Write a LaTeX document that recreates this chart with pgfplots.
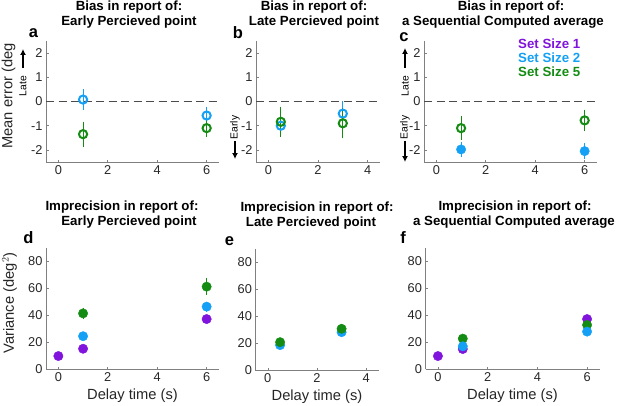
\documentclass[border=0pt]{standalone}
\usepackage{fontspec}
\setmainfont{Liberation Sans}
\usepackage{pgfplots}
\pgfplotsset{compat=1.18}
\usetikzlibrary{arrows.meta}
\definecolor{ssone}{RGB}{128,20,220}
\definecolor{sstwo}{RGB}{20,160,245}
\definecolor{ssfive}{RGB}{20,140,20}
\definecolor{txt}{RGB}{38,38,38}
\definecolor{axc}{RGB}{128,128,128}
\definecolor{dsh}{RGB}{75,75,75}
\pgfplotsset{
  panel/.style={scale only axis, anchor=south west, clip=false,
    axis x line*=bottom, axis y line*=left,
    axis line style={axc, line width=0.8pt},
    tick style={axc, line width=0.6pt}, tick align=inside, major tick length=2.5pt,
    tick label style={font=\fontsize{12.8}{14}\selectfont, text=txt},
    /pgf/number format/assume math mode=true,
    xtick={0,2,4,6}},
  topp/.style={panel, ymin=-2.5, ymax=2.5, ytick={-2,-1,0,1,2}, height=121pt},
  botp/.style={panel, ymin=0, ymax=90, ytick={0,20,40,60,80}, height=121.5pt},
  opn/.style={only marks, color=#1, mark=o, mark size=4.1pt,
    mark options={line width=2pt},
    error bars/.cd, y dir=both, y explicit,
    error bar style={line width=1pt, #1},
    error mark options={line width=1pt, mark size=1.6pt, #1}},
  fil/.style={only marks, color=#1, mark=*, mark size=4.7pt,
    mark options={line width=0.4pt, fill=#1, draw=#1},
    error bars/.cd, y dir=both, y explicit,
    error bar style={line width=1pt, #1},
    error mark options={line width=1pt, mark size=1.6pt, #1}},
  zline/.style={dsh, line width=1.2pt, dash pattern=on 8pt off 4.5pt},
}
\newcommand{\ttl}{\fontsize{13.3}{15}\selectfont\bfseries}
\newcommand{\lbl}{\fontsize{14.7}{16}\selectfont}
\newcommand{\pl}{\fontsize{16.5}{18}\selectfont\bfseries}
\newcommand{\sm}{\fontsize{10.3}{11}\selectfont}
\tikzset{arr/.style={line width=1.7pt, -{Latex[length=6pt,width=6pt]}}}
\begin{document}
\begin{tikzpicture}[x=1pt,y=1pt]
\useasboundingbox (0,0) rectangle (617,405);
% ---------- a ----------
\begin{axis}[topp, at={(46pt,243pt)}, width=173pt, xmin=-0.5, xmax=6.5]
\addplot[zline] coordinates {(-0.5,0) (6.5,0)};
\addplot[opn=sstwo] coordinates {(1,0.08) +- (0,0.36) (6,-0.58) +- (0,0.3)};
\addplot[opn=ssfive] coordinates {(1,-1.35) +- (0,0.45) (6,-1.1) +- (0,0.3)};
\end{axis}
% ---------- b ----------
\begin{axis}[topp, at={(256pt,243pt)}, width=124pt, xmin=-0.5, xmax=4.5, xtick={0,2,4}]
\addplot[zline] coordinates {(-0.5,0) (4.5,0)};
\addplot[opn=sstwo] coordinates {(0.5,-1.0) +- (0,0.3) (3,-0.5) +- (0,0.45)};
\addplot[opn=ssfive] coordinates {(0.5,-0.84) +- (0,0.56) (3,-0.9) +- (0,0.56)};
\end{axis}
% ---------- c ----------
\begin{axis}[topp, at={(424pt,243pt)}, width=173pt, xmin=-0.5, xmax=6.5]
\addplot[zline] coordinates {(-0.5,0) (6.5,0)};
\addplot[fil=sstwo] coordinates {(1,-1.98) +- (0,0.26) (6,-2.05) +- (0,0.26)};
\addplot[opn=ssfive] coordinates {(1,-1.1) +- (0,0.43) (6,-0.78) +- (0,0.38)};
\end{axis}
% ---------- d ----------
\begin{axis}[botp, at={(46pt,36pt)}, width=173pt, xmin=-0.5, xmax=6.5]
\addplot[fil=ssone] coordinates {(0,9.6) +- (0,1.2) (1,15) +- (0,1.5) (6,37) +- (0,2)};
\addplot[fil=sstwo] coordinates {(1,24.3) +- (0,1.8) (6,46.2) +- (0,2.5)};
\addplot[fil=ssfive] coordinates {(1,41.2) +- (0,3) (6,61) +- (0,5)};
\end{axis}
% ---------- e ----------
\begin{axis}[botp, at={(255.5pt,34.5pt)}, width=123pt, xmin=-0.5, xmax=4.5, xtick={0,2,4}]
\addplot[fil=sstwo] coordinates {(0.5,18.8) +- (0,1.5) (3,28.4) +- (0,1.8)};
\addplot[fil=ssfive] coordinates {(0.5,21) +- (0,1.8) (3,30.9) +- (0,2)};
\end{axis}
% ---------- f ----------
\begin{axis}[botp, at={(425.5pt,36pt)}, width=174pt, xmin=-0.5, xmax=6.5]
\addplot[fil=ssone] coordinates {(0,9.6) +- (0,1.2) (1,14.8) +- (0,1.5) (6,37) +- (0,2)};
\addplot[fil=ssfive] coordinates {(1,22.5) +- (0,1.8) (6,32.6) +- (0,2)};
\addplot[fil=sstwo] coordinates {(1,16.8) +- (0,1.5) (6,27.7) +- (0,2)};
\end{axis}
% ---------- titles ----------
\begin{scope}[every node/.style={text=black, inner sep=0pt, anchor=base}]
\node at (129,394) {\ttl Bias in report of:};
\node at (129,379) {\ttl Early Percieved point};
\node at (314,394) {\ttl Bias in report of:};
\node at (314,379) {\ttl Late Percieved point};
\node at (511,394) {\ttl Bias in report of:};
\node at (503,379) {\ttl a Sequential Computed average};
\node at (122,195) {\ttl Imprecision in report of:};
\node at (129,180) {\ttl Early Percieved point};
\node at (317,194) {\ttl Imprecision in report of:};
\node at (311,179) {\ttl Late Percieved point};
\node at (515,195) {\ttl Imprecision in report of:};
\node at (514,180) {\ttl a Sequential Computed average};
% panel letters
\node at (33.5,367) {\pl a};
\node at (238,366) {\pl b};
\node at (404,363) {\pl c};
\node at (28.5,162) {\pl d};
\node at (229.5,160) {\pl e};
\node at (403,162) {\pl f};
% x labels
\node[text=txt] at (132.5,6) {\lbl Delay time (s)};
\node[text=txt] at (317,4.5) {\lbl Delay time (s)};
\node[text=txt] at (512.5,6) {\lbl Delay time (s)};
\end{scope}
% y labels
\node[text=txt, rotate=90, inner sep=0pt] at (8.5,309) {\lbl Mean error (deg};
\node[text=txt, rotate=90, inner sep=0pt] at (9.5,102) {\lbl Variance (deg$^{2}$)};
% late / early
\node[rotate=90, inner sep=0pt] at (23,319) {\sm Late};
\draw[arr] (23,337) -- (23,356);
\node[rotate=90, inner sep=0pt] at (235,277.5) {\sm Early};
\draw[arr] (235,264) -- (235,246);
\node[rotate=90, inner sep=0pt] at (405,319) {\sm Late};
\draw[arr] (405,337) -- (405,357);
\node[rotate=90, inner sep=0pt] at (405,277.5) {\sm Early};
\draw[arr] (405,264) -- (405,243);
% legend
\begin{scope}[every node/.style={inner sep=0pt, anchor=base west}]
\node[text=ssone] at (518,356) {\ttl Set Size 1};
\node[text=sstwo] at (518,342) {\ttl Set Size 2};
\node[text=ssfive] at (518,328) {\ttl Set Size 5};
\end{scope}
\end{tikzpicture}
\end{document}
